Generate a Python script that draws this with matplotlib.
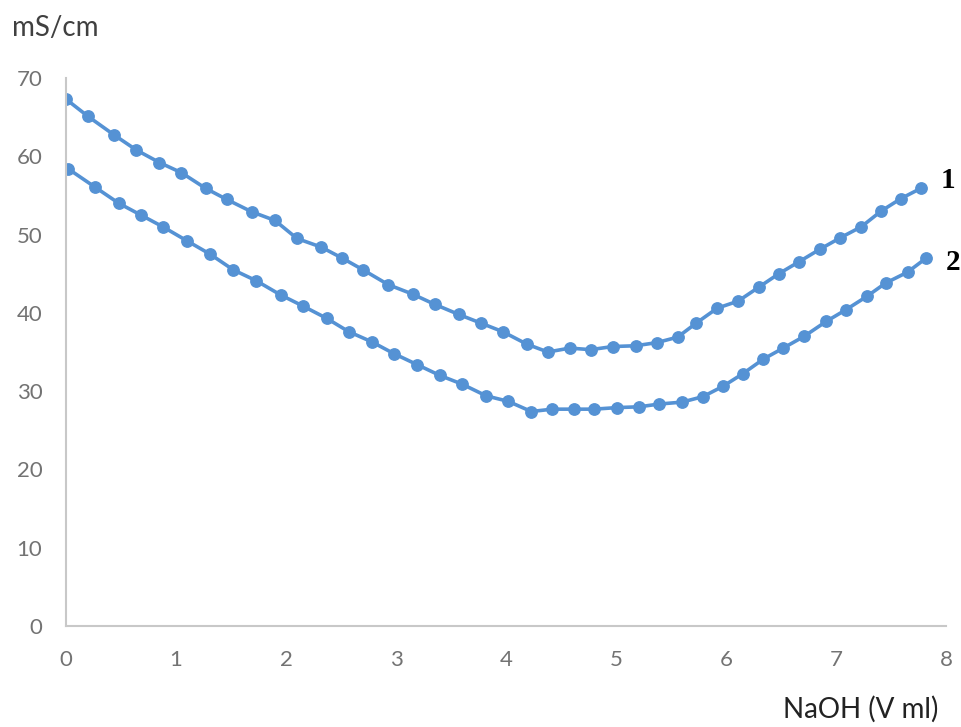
import matplotlib
matplotlib.use("Agg")
import matplotlib.pyplot as plt

# conductivity during titration with NaOH, two samples
v_naoh_1 = [0.0, 0.2, 0.44, 0.64, 0.85, 1.05, 1.27, 1.46, 1.69, 1.90,
            2.10, 2.32, 2.51, 2.70, 2.93, 3.15, 3.35, 3.57, 3.77, 3.97,
            4.19, 4.38, 4.58, 4.77, 4.97, 5.18, 5.37, 5.56, 5.73, 5.92,
            6.11, 6.30, 6.48, 6.66, 6.85, 7.04, 7.23, 7.41, 7.59, 7.77]
cond_1 = [67.3, 65.1, 62.7, 60.8, 59.2, 57.9, 55.9, 54.5, 52.9, 51.8,
          49.5, 48.4, 47.0, 45.5, 43.6, 42.4, 41.1, 39.8, 38.7, 37.6,
          36.0, 35.0, 35.5, 35.3, 35.7, 35.8, 36.2, 36.9, 38.7, 40.6,
          41.5, 43.3, 45.0, 46.5, 48.1, 49.6, 51.0, 53.0, 54.6, 55.9]

v_naoh_2 = [0.02, 0.26, 0.48, 0.68, 0.88, 1.10, 1.31, 1.52, 1.73, 1.95,
            2.15, 2.37, 2.57, 2.78, 2.98, 3.19, 3.40, 3.60, 3.82, 4.02,
            4.23, 4.42, 4.62, 4.80, 5.01, 5.21, 5.39, 5.60, 5.79, 5.97,
            6.15, 6.34, 6.52, 6.71, 6.91, 7.09, 7.28, 7.45, 7.65, 7.82]
cond_2 = [58.4, 56.1, 54.0, 52.5, 51.0, 49.2, 47.5, 45.5, 44.1, 42.3,
          40.9, 39.3, 37.6, 36.3, 34.8, 33.4, 32.0, 30.9, 29.4, 28.7,
          27.4, 27.7, 27.7, 27.7, 27.9, 28.0, 28.35, 28.6, 29.3, 30.6,
          32.2, 34.1, 35.5, 37.0, 38.9, 40.4, 42.1, 43.8, 45.2, 47.0]

x_ticks = [0, 1, 2, 3, 4, 5, 6, 7, 8]
y_ticks = [0, 10, 20, 30, 40, 50, 60, 70]
curve_labels = ["1", "2"]

plt.rcParams['font.family'] = ['Lato', 'DejaVu Sans']

blue = '#5592d4'
fig = plt.figure(figsize=(9.62, 7.27), dpi=100)
ax = fig.add_axes([0.0686, 0.1389, 0.9148, 0.7538])

for xs, ys in [(v_naoh_1, cond_1), (v_naoh_2, cond_2)]:
    ax.plot(xs, ys, color=blue, linewidth=2.6, marker='o', markersize=8.2,
            markerfacecolor=blue, markeredgecolor=blue)

ax.set_xlim(0, 8)
ax.set_ylim(0, 70)
ax.set_xticks(x_ticks)
ax.set_yticks(y_ticks)
ax.tick_params(axis='both', length=0, labelsize=16, labelcolor='#737373')
ax.tick_params(axis='x', pad=17)
ax.tick_params(axis='y', pad=17)

for side in ['top', 'right']:
    ax.spines[side].set_visible(False)
for side in ['left', 'bottom']:
    ax.spines[side].set_color('#c8c8c8')
    ax.spines[side].set_linewidth(1.5)

# curve numbers right of the last points
label_shift = [(14, 6), (14, -3)]
for xs, ys, lab, off in zip([v_naoh_1, v_naoh_2], [cond_1, cond_2], curve_labels, label_shift):
    ax.annotate(lab, xy=(xs[-1], ys[-1]), xytext=off, textcoords='offset points',
                ha='left', va='center', fontsize=21, fontweight='bold',
                family='Liberation Serif', color='black', annotation_clip=False)

fig.text(0.012, 0.962, "mS/cm", fontsize=20, color='#404040', ha='left', va='center')
fig.text(0.975, 0.024, "NaOH (V ml)", fontsize=20, color='#222222', ha='right', va='center')

fig.savefig("out.png", dpi=100)
